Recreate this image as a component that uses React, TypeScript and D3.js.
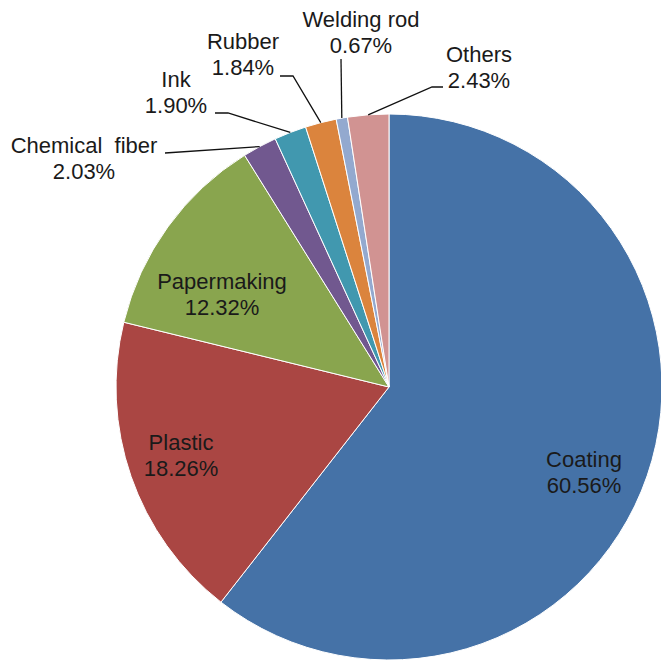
import React from "react";
import * as d3 from "d3";

const categories = ["Coating", "Plastic", "Papermaking", "Chemical  fiber", "Ink", "Rubber", "Welding rod", "Others"];
const values = [60.56, 18.26, 12.32, 2.03, 1.9, 1.84, 0.67, 2.43];
const percentLabels = ["60.56%", "18.26%", "12.32%", "2.03%", "1.90%", "1.84%", "0.67%", "2.43%"];
const colors = ["#4572A7", "#AA4643", "#89A54E", "#71588F", "#4198AF", "#DB843D", "#93A9CF", "#D19392"];

// label placement: text centre x, first baseline y; inside = no leader
const labelLayout = [
  { x: 584, y: 467, inside: true, elbow: null },
  { x: 181, y: 450, inside: true, elbow: null },
  { x: 222, y: 289, inside: true, elbow: null },
  { x: 84, y: 153, inside: false, elbow: [[165, 153]] },
  { x: 176, y: 87, inside: false, elbow: [[228, 113], [215, 113]] },
  { x: 243, y: 49, inside: false, elbow: [[293, 76], [280, 76]] },
  { x: 361, y: 27, inside: false, elbow: [[341, 59]] },
  { x: 479, y: 62, inside: false, elbow: [[432, 87], [443, 87]] },
];

const W = 661;
const H = 660;
const CX = 389;
const CY = 387;
const R = 273;

export default function App() {
  const data = values.map((v, i) => ({ name: categories[i], value: v, i }));
  const pie = d3.pie<any>().value((d) => d.value).sort(null).startAngle(0).endAngle(2 * Math.PI);
  const arcs = pie(data);
  const arc = d3.arc<any>().innerRadius(0).outerRadius(R);
  const edge = d3.arc<any>().innerRadius(R).outerRadius(R);
  const line = d3.line();
  const font = "'Liberation Sans', Arial, sans-serif";

  return (
    <svg width={W} height={H} style={{ position: "absolute", left: 0, top: 0, background: "#fff" }}>
      <g transform={`translate(${CX},${CY})`}>
        {arcs.map((a, i) => (
          <path key={i} d={arc(a) || ""} fill={colors[i]} stroke="#fff" strokeWidth={1} />
        ))}
      </g>
      {arcs.map((a, i) => {
        const lay = labelLayout[i];
        if (lay.inside || !lay.elbow) return null;
        const mid = (a.startAngle + a.endAngle) / 2;
        const c = edge.centroid({ ...a, startAngle: mid, endAngle: mid });
        const pts: [number, number][] = [[CX + c[0], CY + c[1]], ...(lay.elbow as [number, number][])];
        return <path key={"l" + i} d={line(pts) || ""} fill="none" stroke="#111" strokeWidth={1.3} />;
      })}
      {arcs.map((a, i) => {
        const lay = labelLayout[i];
        return (
          <text key={"t" + i} x={lay.x} y={lay.y} textAnchor="middle" fontFamily={font} fontSize={22} fill="#1a1a1a" style={{ whiteSpace: "pre" }}>
            <tspan x={lay.x} y={lay.y}>{categories[i]}</tspan>
            <tspan x={lay.x} y={lay.y + 26}>{percentLabels[i]}</tspan>
          </text>
        );
      })}
    </svg>
  );
}
